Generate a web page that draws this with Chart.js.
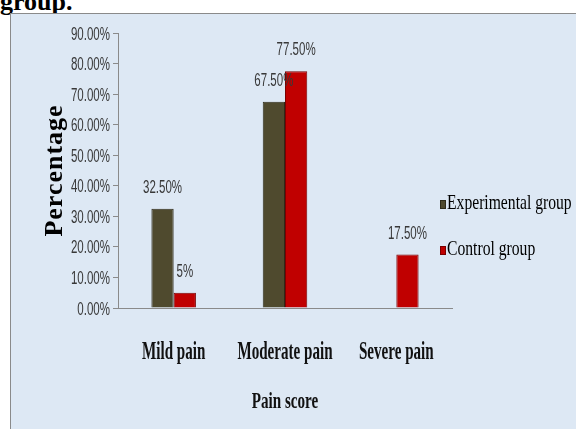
<!DOCTYPE html>
<html>
<head>
    <title>Pain score chart</title>
    <script src="https://cdn.jsdelivr.net/npm/chart.js"></script>
    <style>
        * {
            box-sizing: border-box;
            margin: 0;
            padding: 0;
        }

        body {
            width: 576px;
            height: 429px;
            overflow: hidden;
            background: #ffffff;
            position: relative;
        }

        .heading {
            position: absolute;
            left: 0;
            top: -11px;
            font-family: 'Liberation Serif', serif;
            font-weight: bold;
            font-size: 26px;
            line-height: 1;
            color: #000;
        }

        .frame {
            position: absolute;
            left: 10px;
            top: 13px;
            width: 580px;
            height: 430px;
            border: 1px solid #8a8a8a;
            background: #dde8f4;
        }

        .chart-box {
            position: absolute;
            left: 0;
            top: 0;
            width: 565px;
            height: 415px;
        }
    </style>
</head>
<body>
    <div class="heading">group.</div>
    <div class="frame">
        <div class="chart-box">
            <canvas id="painChart"></canvas>
        </div>
    </div>

    <script>
        // data
        const categories = ['Mild pain', 'Moderate pain', 'Severe pain'];
        const experimental = [32.5, 67.5, 0];
        const control = [5, 77.5, 17.5];
        const experimentalLabels = ['32.50%', '67.50%', ''];
        const controlLabels = ['5%', '77.50%', '17.50%'];
        const seriesNames = ['Experimental group', 'Control group'];
        const yTicks = [0, 10, 20, 30, 40, 50, 60, 70, 80, 90];
        const xTitle = 'Pain score';
        const yTitle = 'Percentage';

        const sans = "'Liberation Sans', Arial, sans-serif";
        const serif = "'Liberation Serif', 'Times New Roman', serif";

        // the original uses narrow fonts, so text is drawn squeezed sideways
        function squashText(ctx, text, x, y, font, sx, align, color) {
            ctx.save();
            ctx.translate(x, y);
            ctx.scale(sx, 1);
            ctx.font = font;
            ctx.textAlign = align;
            ctx.textBaseline = 'alphabetic';
            ctx.fillStyle = color;
            ctx.fillText(text, 0, 0);
            ctx.restore();
        }

        const axisText = {
            id: 'axisText',
            afterDraw(chart) {
                const ctx = chart.ctx;
                const area = chart.chartArea;
                const xs = chart.scales.x;
                const ys = chart.scales.y;

                // y tick labels
                ys.ticks.forEach(t => {
                    const y = ys.getPixelForValue(t.value);
                    squashText(ctx, t.value.toFixed(2) + '%', area.left - 8, y + 6.5,
                        '18px ' + sans, 0.64, 'right', '#383838');
                });

                // category labels
                categories.forEach((c, i) => {
                    squashText(ctx, c, xs.getPixelForTick(i), 345,
                        'bold 26px ' + serif, 0.58, 'center', '#111');
                });

                // x title
                squashText(ctx, xTitle, (area.left + area.right) / 2, 394,
                    'bold 24px ' + serif, 0.63, 'center', '#111');

                // y title, rotated
                ctx.save();
                ctx.translate(51, (area.top + area.bottom) / 2);
                ctx.rotate(-Math.PI / 2);
                ctx.font = 'bold 26px ' + serif;
                ctx.letterSpacing = '1px';
                ctx.fillStyle = '#000';
                ctx.textAlign = 'center';
                ctx.textBaseline = 'alphabetic';
                ctx.fillText(yTitle, 0, 0);
                ctx.restore();
            }
        };

        // value labels above the bars
        const barLabels = {
            id: 'barLabels',
            afterDatasetsDraw(chart) {
                chart.data.datasets.forEach((ds, i) => {
                    chart.getDatasetMeta(i).data.forEach((bar, j) => {
                        const txt = ds.valueLabels[j];
                        if (txt) {
                            squashText(chart.ctx, txt, bar.x, bar.y - 16,
                                '18px ' + sans, 0.64, 'center', '#383838');
                        }
                    });
                });
            }
        };

        // legend at the right, overlapping the plot edge like the original
        const sideLegend = {
            id: 'sideLegend',
            afterDraw(chart) {
                const ctx = chart.ctx;
                chart.data.datasets.forEach((ds, i) => {
                    const base = 195 + i * 46;
                    ctx.save();
                    ctx.fillStyle = ds.backgroundColor;
                    ctx.fillRect(429, base - 9, 6, 9);
                    ctx.strokeStyle = ds.borderColor;
                    ctx.lineWidth = 1;
                    ctx.strokeRect(429.5, base - 8.5, 5, 8);
                    ctx.restore();
                    squashText(ctx, ds.label, 436, base, '21px ' + serif, 0.745, 'left', '#000');
                });
            }
        };

        new Chart(document.getElementById('painChart'), {
            type: 'bar',
            data: {
                labels: categories,
                datasets: [{
                    label: seriesNames[0],
                    data: experimental,
                    valueLabels: experimentalLabels,
                    backgroundColor: '#4f4a2e',
                    borderColor: '#2e2b1a',
                    borderWidth: 1,
                    categoryPercentage: 0.4,
                    barPercentage: 1.0
                }, {
                    label: seriesNames[1],
                    data: control,
                    valueLabels: controlLabels,
                    backgroundColor: '#c00000',
                    borderColor: '#7a0000',
                    borderWidth: 1,
                    categoryPercentage: 0.4,
                    barPercentage: 1.0
                }]
            },
            options: {
                responsive: true,
                maintainAspectRatio: false,
                animation: false,
                layout: {
                    padding: { left: 47, top: 19, right: 124, bottom: 11 }
                },
                plugins: {
                    legend: { display: false },
                    tooltip: { enabled: false }
                },
                scales: {
                    x: {
                        afterFit(scale) { scale.height = 110; },
                        grid: { display: false, drawTicks: false },
                        border: { display: true, color: '#8a8a8a' },
                        ticks: { display: false }
                    },
                    y: {
                        min: 0,
                        max: 90,
                        afterFit(scale) { scale.width = 60; },
                        afterBuildTicks(scale) {
                            scale.ticks = yTicks.map(v => ({ value: v }));
                        },
                        grid: {
                            drawOnChartArea: false,
                            drawTicks: true,
                            tickLength: 5,
                            color: '#8a8a8a'
                        },
                        border: { display: true, color: '#8a8a8a' },
                        ticks: { display: false }
                    }
                }
            },
            plugins: [barLabels, axisText, sideLegend]
        });
    </script>
</body>
</html>
